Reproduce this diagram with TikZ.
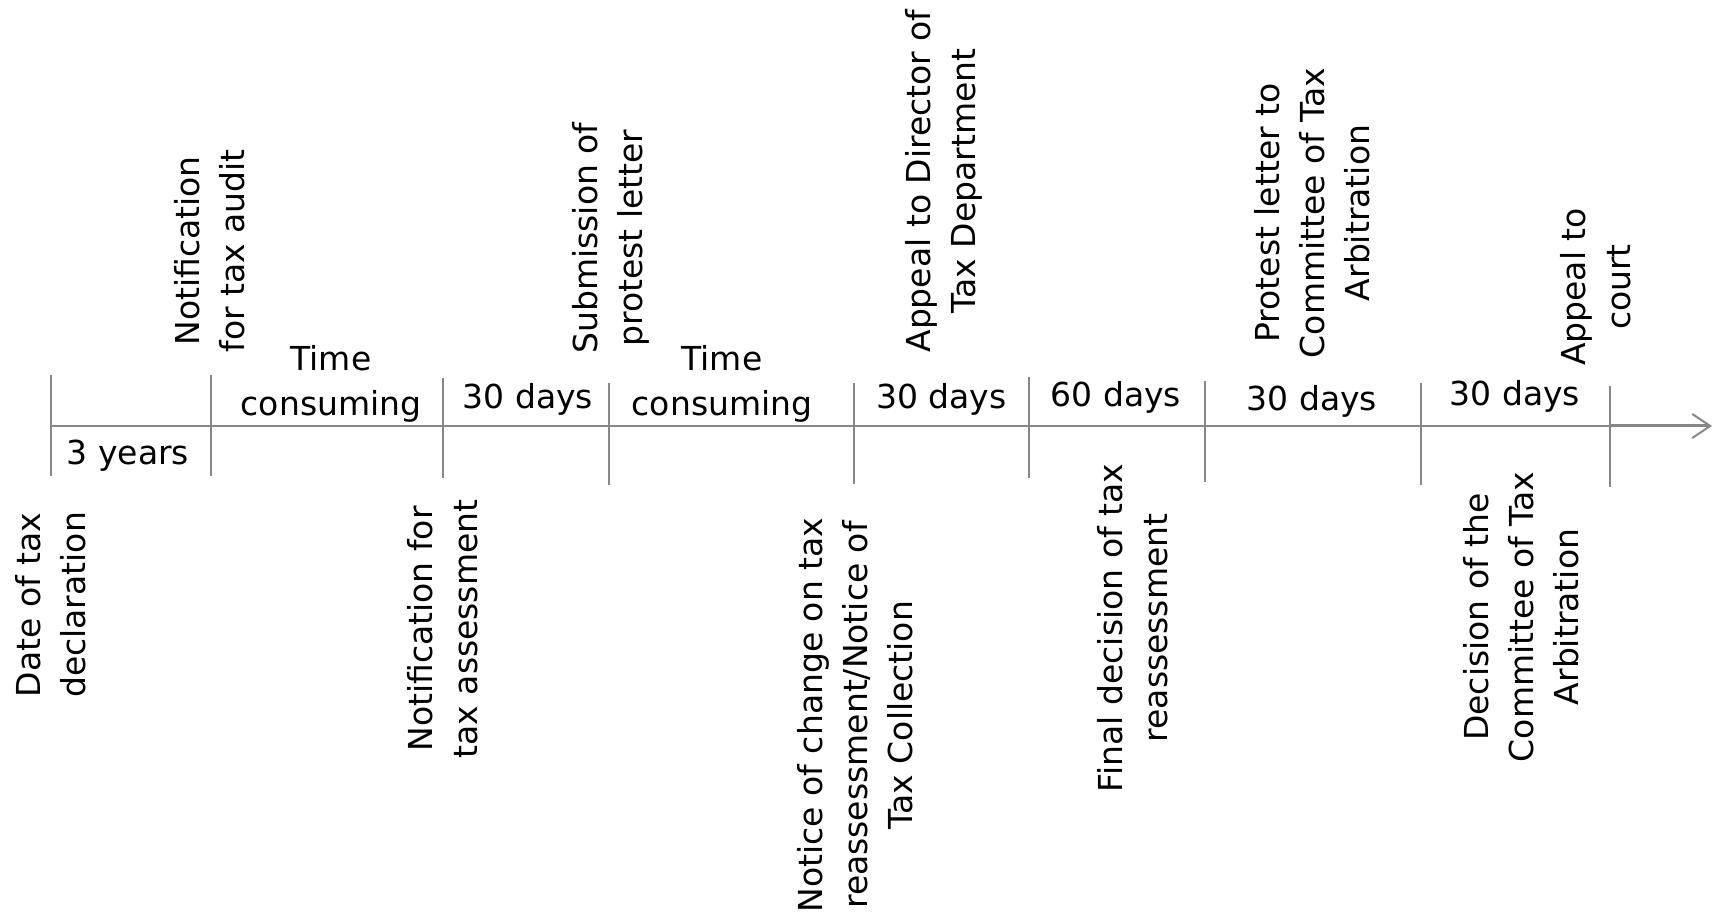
\documentclass[tikz,border=0pt]{standalone}
\usepackage{fontspec}
\setmainfont{DejaVu Sans}
\usetikzlibrary{arrows.meta}
\definecolor{axisgray}{RGB}{135,135,135}
\begin{document}
\begin{tikzpicture}[x=0.5pt,y=-0.5pt,
  lbl/.style={font=\fontsize{16.5}{22.5}\selectfont, inner sep=0pt, text=black},
  vlbl/.style={lbl, rotate=90, align=center, anchor=center},
  dur/.style={lbl, anchor=base},
  durtwo/.style={lbl, align=center, anchor=center},
  tickline/.style={draw=axisgray, line width=1pt},
  axisline/.style={draw=axisgray, line width=1pt},
  axisend/.style={draw=axisgray, line width=1.5pt, -{Straight Barb[length=9pt,width=12pt,line width=1pt]}}]
\useasboundingbox (0,0) rectangle (1715,914);

% tick end points
\coordinate (t1a) at (50.5,375); \coordinate (t1b) at (50.5,476);
\coordinate (t2a) at (210.7,375); \coordinate (t2b) at (210.7,476);
\coordinate (t3a) at (443,378); \coordinate (t3b) at (443,478);
\coordinate (t4a) at (608.5,383); \coordinate (t4b) at (608.5,485);
\coordinate (t5a) at (854,383); \coordinate (t5b) at (854,484);
\coordinate (t6a) at (1029,377); \coordinate (t6b) at (1029,478);
\coordinate (t7a) at (1205,381); \coordinate (t7b) at (1205,482);
\coordinate (t8a) at (1421,383); \coordinate (t8b) at (1421,485);
\coordinate (t9a) at (1610,386); \coordinate (t9b) at (1610,487);
\coordinate (axstart) at (50.5,426);
\coordinate (axlast) at (1610,426);
\coordinate (axend) at (1712,426);

\foreach \i in {1,...,9} {\draw[tickline] (t\i a) -- (t\i b);}
\draw[axisline] (axstart) -- (axlast);
\draw[axisend] (axlast) -- (axend);

% durations
\node[dur] (d1) at (128,465) {3 years};
\node[durtwo] (d2) at (331,384) {Time\\consuming};
\node[dur] (d3) at (528,409) {30 days};
\node[durtwo] (d4) at (722,384) {Time\\consuming};
\node[dur] (d5) at (941.5,409) {30 days};
\node[dur] (d6) at (1116,407) {60 days};
\node[dur] (d7) at (1312,411) {30 days};
\node[dur] (d8) at (1515,406) {30 days};

% events above
\node[vlbl] (e2) at (210,251) {Notification\\for tax audit};
\node[vlbl] (e4) at (611,238) {Submission of\\protest letter};
\node[vlbl] (e5) at (944,181) {Appeal to Director of\\Tax Department};
\node[vlbl] (e7) at (1312,213) {Protest letter to\\Committee of Tax\\Arbitration};
\node[vlbl] (e9) at (1596,287) {Appeal to\\court};

% events below
\node[vlbl] (e1) at (51,605) {Date of tax\\declaration};
\node[vlbl] (e3) at (443,629) {Notification for\\tax assessment};
\node[vlbl] (e6) at (855,715) {Notice of change on tax\\reassessment/Notice of\\Tax Collection};
\node[vlbl] (e8) at (1133,628) {Final decision of tax\\reassessment};
\node[vlbl] (e10) at (1521,617) {Decision of the\\Committee of Tax\\Arbitration};
\end{tikzpicture}
\end{document}
